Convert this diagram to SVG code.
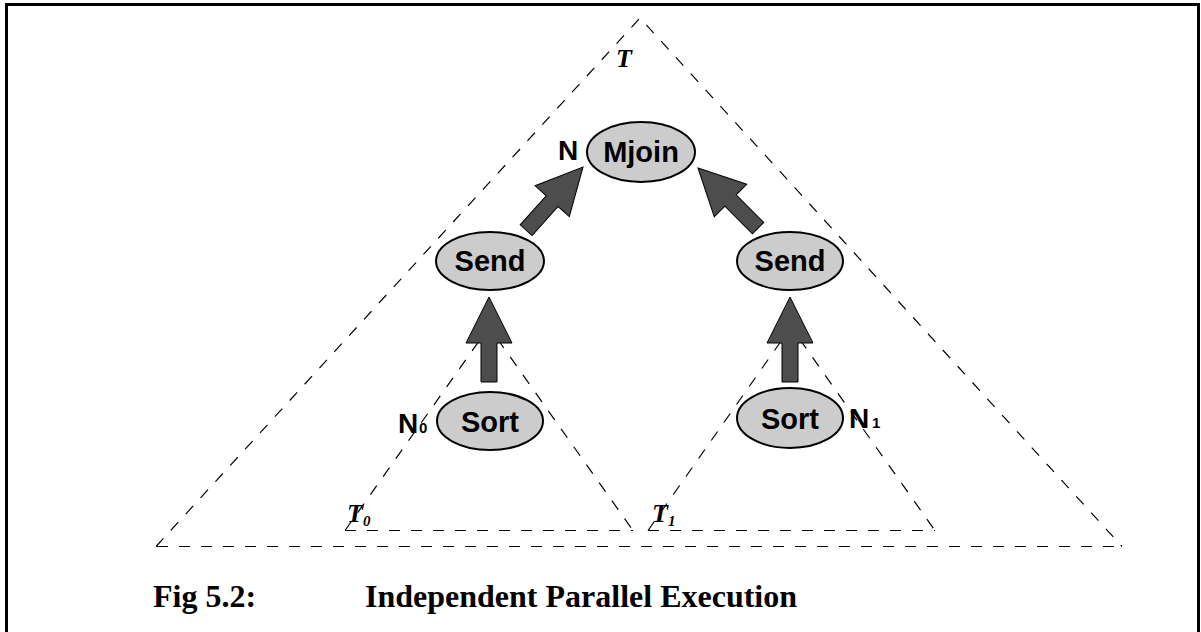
<svg xmlns="http://www.w3.org/2000/svg" width="1201" height="632" viewBox="0 0 1201 632">
<style>
.dash{fill:none;stroke:#000;stroke-width:1.2;stroke-dasharray:11 11}
.node{fill:#cccccc;stroke:#000;stroke-width:2}
.lbl{font-family:"Liberation Sans",Arial,sans-serif;font-weight:bold;font-size:29px;fill:#000}
.nl{font-family:"Liberation Sans",Arial,sans-serif;font-weight:bold;font-size:28px;fill:#000}
.sub{font-family:"Liberation Sans",Arial,sans-serif;font-weight:bold;font-size:15px;fill:#000}
.tl{font-family:"Liberation Serif","Times New Roman",serif;font-weight:bold;font-style:italic;font-size:26px;fill:#000}
.tsub{font-family:"Liberation Serif","Times New Roman",serif;font-weight:bold;font-style:italic;font-size:15px;fill:#000}
.cap{font-family:"Liberation Serif","Times New Roman",serif;font-weight:bold;font-size:32px;fill:#000}
.arrow{fill:#4d4d4d;stroke:#000;stroke-width:1}
</style>
<defs>
<path id="blk" d="M0,0 L23,46 L8,46 L8,85 L-8,85 L-8,46 L-23,46 Z"/>
</defs>
<rect x="0" y="0" width="1201" height="632" fill="#fff"/>
<rect x="6.5" y="4.5" width="1192" height="700" fill="none" stroke="#000" stroke-width="3"/>
<g id="subtrees">
<polyline class="dash" points="156,546.5 640,18 1122,546.5"/>
<line class="dash" x1="157" y1="546.5" x2="1122" y2="546.5"/>
<polyline class="dash" points="345,530.5 489,327 633,530.5"/>
<line class="dash" x1="345" y1="530.5" x2="633" y2="530.5"/>
<polyline class="dash" points="648,530.5 791,327 935,530.5"/>
<line class="dash" x1="648" y1="530.5" x2="935" y2="530.5"/>
<text class="tl" x="616" y="67">T</text>
<text class="tl" x="347" y="522">T<tspan class="tsub" dy="4">0</tspan></text>
<text class="tl" x="652" y="522">T<tspan class="tsub" dy="4">1</tspan></text>
</g>
<g id="connectors">
<use href="#blk" class="arrow" transform="translate(489,297)"/>
<use href="#blk" class="arrow" transform="translate(790,297)"/>
<use href="#blk" class="arrow" transform="translate(583,167) rotate(42)"/>
<use href="#blk" class="arrow" transform="translate(698,168) rotate(-45)"/>
</g>
<g id="mjoin">
<ellipse class="node" cx="641" cy="152" rx="54" ry="30"/>
<text class="lbl" x="641" y="162" text-anchor="middle">Mjoin</text>
<text class="nl" x="558" y="160">N</text>
</g>
<g id="send0">
<ellipse class="node" cx="490" cy="261" rx="54" ry="29"/>
<text class="lbl" x="490" y="271" text-anchor="middle">Send</text>
</g>
<g id="send1">
<ellipse class="node" cx="790" cy="261" rx="53" ry="29"/>
<text class="lbl" x="790" y="271" text-anchor="middle">Send</text>
</g>
<g id="sort0">
<ellipse class="node" cx="490" cy="421" rx="53" ry="29"/>
<text class="lbl" x="490" y="432" text-anchor="middle">Sort</text>
<text class="nl" x="398" y="433">N</text>
<text class="sub" x="419" y="433">0</text>
</g>
<g id="sort1">
<ellipse class="node" cx="790" cy="418" rx="53" ry="30"/>
<text class="lbl" x="790" y="429" text-anchor="middle">Sort</text>
<text class="nl" x="849" y="428">N</text>
<text class="sub" x="872" y="428">1</text>
</g>
<g id="caption">
<text class="cap" x="153" y="607">Fig 5.2:</text>
<text class="cap" x="365" y="607">Independent Parallel Execution</text>
</g>
</svg>
